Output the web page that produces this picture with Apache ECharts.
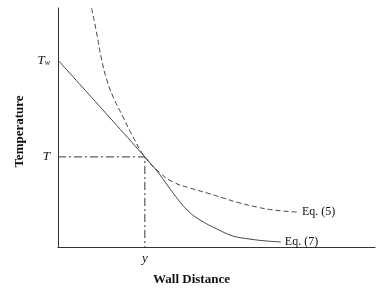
<!DOCTYPE html>
<html>
<head>
<meta charset="utf-8">
<script src="https://cdn.jsdelivr.net/npm/echarts@6/dist/echarts.min.js"></script>
<style>
  html, body { margin: 0; padding: 0; background: #fff; }
  #chart { width: 387px; height: 294px; }
</style>
</head>
<body>
<div id="chart"></div>
<script>
// wall distance (0..100) / temperature (0..100)
const eq7X = [0, 27.4, 32.2, 36.3, 40.7, 44.8, 50.2, 55.2, 60.6, 65.9, 70.3];
const eq7Y = [78.2, 37.7, 30.1, 22.6, 15.5, 11.3, 7.5, 4.6, 3.3, 2.5, 2.1];
const eq5X = [10.6, 12.2, 13.8, 15.4, 17.4, 20.5, 23.7, 27.4, 32.2, 36.3, 41.6, 47.0, 52.1, 57.4, 62.8, 67.8, 75.7];
const eq5Y = [99.9, 89.5, 78.2, 69.9, 62.8, 54.4, 46.0, 37.7, 31.0, 27.2, 24.7, 22.6, 20.5, 18.4, 16.7, 15.5, 14.6];
const tempTicks = [78.2, 37.7];   // T_w, T
const distTicks = [27.4];         // y
const guideX = [0, 27.4, 27.4];
const guideY = [37.7, 37.7, 0];

const zip = (xs, ys) => xs.map((x, i) => [x, ys[i]]);
const serif = '"Liberation Serif", "DejaVu Serif", serif';

let chart = echarts.init(document.getElementById('chart'));
chart.setOption({
  animation: false,
  textStyle: { fontFamily: serif, color: '#111' },
  grid: { left: 58, right: 12, top: 8, bottom: 47 },
  xAxis: {
    type: 'value', min: 0, max: 100,
    name: 'Wall Distance',
    nameLocation: 'middle',
    nameGap: 26,
    nameTextStyle: { fontFamily: serif, fontWeight: 'bold', fontSize: 13, color: '#111', padding: [0, 50, 0, 0] },
    axisLine: { show: true, lineStyle: { color: '#333', width: 1 } },
    axisTick: { show: false },
    splitLine: { show: false },
    axisLabel: {
      customValues: distTicks,
      formatter: () => 'y',
      fontStyle: 'italic', fontSize: 13, fontFamily: serif, color: '#111', margin: 5
    }
  },
  yAxis: {
    type: 'value', min: 0, max: 100,
    name: 'Temperature',
    nameLocation: 'middle',
    nameGap: 31,
    nameTextStyle: { fontFamily: serif, fontWeight: 'bold', fontSize: 13, color: '#111', padding: [0, 8, 0, 0] },
    axisLine: { show: true, lineStyle: { color: '#333', width: 1 } },
    axisTick: { show: false },
    splitLine: { show: false },
    axisLabel: {
      customValues: tempTicks,
      formatter: v => (v === tempTicks[0] ? '{i|T}{s|w}' : '{i|T}'),
      margin: 8,
      rich: {
        i: { fontStyle: 'italic', fontSize: 13, fontFamily: serif, color: '#111' },
        s: { fontStyle: 'italic', fontSize: 8, fontFamily: serif, color: '#111', verticalAlign: 'bottom', padding: [6, 0, 0, 0] }
      }
    }
  },
  series: [
    {
      type: 'line',
      data: zip(guideX, guideY),
      symbol: 'none',
      lineStyle: { color: '#333', width: 1, type: [8, 3, 2, 3] },
      silent: true
    },
    {
      type: 'line',
      data: zip(eq7X, eq7Y),
      smooth: 0.4,
      symbol: 'none',
      lineStyle: { color: '#444', width: 1 },
      endLabel: { show: true, formatter: 'Eq. (7)', fontFamily: serif, fontSize: 12, color: '#111', distance: 4 }
    },
    {
      type: 'line',
      data: zip(eq5X, eq5Y),
      smooth: 0.5,
      symbol: 'none',
      lineStyle: { color: '#444', width: 1, type: [5, 3] },
      endLabel: { show: true, formatter: 'Eq. (5)', fontFamily: serif, fontSize: 12, color: '#111', distance: 4 }
    }
  ]
});
</script>
</body>
</html>
